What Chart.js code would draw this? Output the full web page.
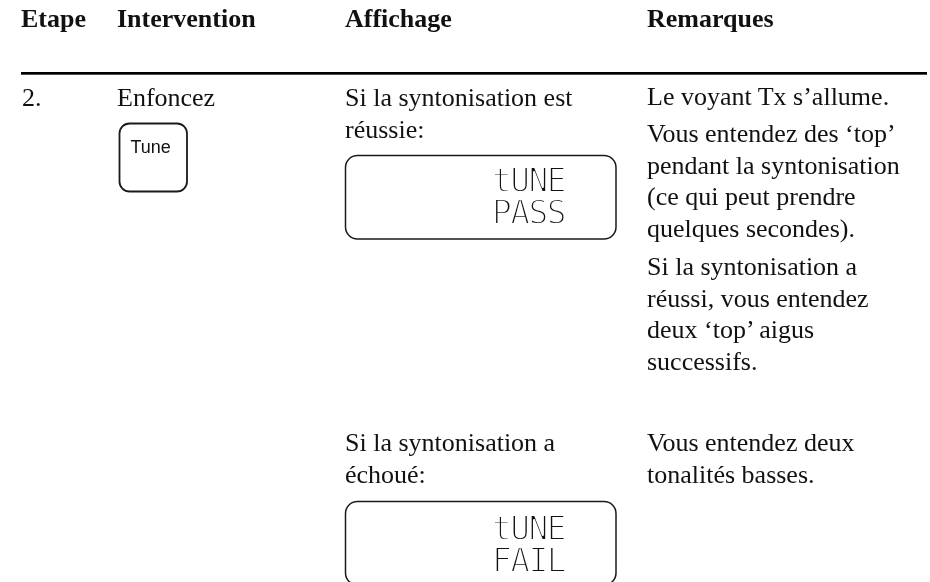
<!DOCTYPE html>
<html>
<head>
<meta charset="utf-8">
<script src="https://cdn.jsdelivr.net/npm/chart.js@4.4.1/dist/chart.umd.min.js"></script>
<style>
  html, body { margin: 0; padding: 0; background: #fff; }
  #page { position: relative; width: 930px; height: 582px; overflow: hidden; }
  #fond { position: absolute; left: 0; top: 0; }
  .txt { position: absolute; font-family: "Liberation Serif", "Times New Roman", serif; font-size: 26px; line-height: 31.6px; color: #111; white-space: nowrap; }
  .entete { font-weight: bold; line-height: 30px; }
  .touche { position: absolute; font-family: "Liberation Sans", Arial, sans-serif; font-size: 18px; line-height: 20px; color: #111; }
  .lcd { position: absolute; font-family: "DejaVu Sans Mono", monospace; font-size: 33px; line-height: 32px; letter-spacing: -1.6px; color: #111; -webkit-text-stroke: 1.8px #fff; white-space: pre; }
</style>
</head>
<body>
<div id="page">
  <canvas id="fond" width="930" height="582"></canvas>
</div>
<script>
// ==========================================
// 1. CONTENU (textes du tableau)
// ==========================================
const entetes = ["Etape", "Intervention", "Affichage", "Remarques"];
const etape = "2.";
const intervention = "Enfoncez";
const nomTouche = "Tune";

const affichageOk = ["Si la syntonisation est", "réussie:"];
const affichageEchec = ["Si la syntonisation a", "échoué:"];
const ecranOk = ["tUNE", "PASS"];
const ecranEchec = ["tUNE", "FAIL"];

const remarques = [
  ["Le voyant Tx s’allume."],
  ["Vous entendez des ‘top’", "pendant la syntonisation", "(ce qui peut prendre", "quelques secondes)."],
  ["Si la syntonisation a", "réussi, vous entendez", "deux ‘top’ aigus", "successifs."],
  ["Vous entendez deux", "tonalités basses."]
];

// ==========================================
// 2. MISE EN PAGE
// ==========================================
const colonnesX = [21, 117, 345, 647];
const BASE = 24.58; // décalage haut de ligne -> ligne de base (26px / 31.6px)
const page = document.getElementById("page");

function bloc(lignes, x, baseline, cls) {
  const el = document.createElement("div");
  el.className = cls || "txt";
  el.style.left = x + "px";
  el.style.top = (baseline - BASE) + "px";
  el.innerHTML = lignes.join("<br>");
  page.appendChild(el);
}

// en-têtes
entetes.forEach((t, i) => {
  const el = document.createElement("div");
  el.className = "txt entete";
  el.style.left = colonnesX[i] + "px";
  el.style.top = "3.7px";
  el.textContent = t;
  page.appendChild(el);
});

bloc([etape], 22, 107);
bloc([intervention], colonnesX[1], 107);
bloc(affichageOk, colonnesX[2], 107);
bloc(affichageEchec, colonnesX[2], 452);

const basesRemarques = [106, 142.5, 275.5, 452];
remarques.forEach((p, i) => bloc(p, colonnesX[3], basesRemarques[i]));

// touche "Tune"
const touche = document.createElement("div");
touche.className = "touche";
touche.style.left = "130.5px";
touche.style.top = "137px";
touche.textContent = nomTouche;
page.appendChild(touche);

// écrans LCD
function ecran(lignes, top) {
  const el = document.createElement("div");
  el.className = "lcd";
  el.style.left = "492px";
  el.style.top = top + "px";
  el.innerHTML = lignes.join("<br>");
  page.appendChild(el);
}
ecran(ecranOk, 164.6);
ecran(ecranEchec, 512.6);

// ==========================================
// 3. CADRES ET FILET (Chart.js)
// ==========================================
const cadres = [
  { x: 119.5, y: 123.5, w: 67.5, h: 68, r: 10, lw: 1.8 },
  { x: 345.5, y: 155.5, w: 270.5, h: 83.5, r: 12, lw: 1.5 },
  { x: 345.5, y: 501.5, w: 270.5, h: 83.5, r: 12, lw: 1.5 }
];

const pluginCadres = {
  id: "cadres",
  afterDraw(chart) {
    const ctx = chart.ctx;
    ctx.save();
    // filet sous l'en-tête
    ctx.fillStyle = "#000";
    ctx.fillRect(21, 72, 906, 2.7);
    // cadres arrondis
    ctx.strokeStyle = "#1a1a1a";
    cadres.forEach(c => {
      ctx.lineWidth = c.lw;
      ctx.beginPath();
      ctx.roundRect(c.x, c.y, c.w, c.h, c.r);
      ctx.stroke();
    });
    ctx.restore();
  }
};

new Chart(document.getElementById("fond"), {
  type: "scatter",
  data: { datasets: [] },
  options: {
    responsive: false,
    animation: false,
    devicePixelRatio: 1,
    plugins: { legend: { display: false }, tooltip: { enabled: false } },
    scales: { x: { display: false }, y: { display: false } }
  },
  plugins: [pluginCadres]
});
</script>
</body>
</html>
